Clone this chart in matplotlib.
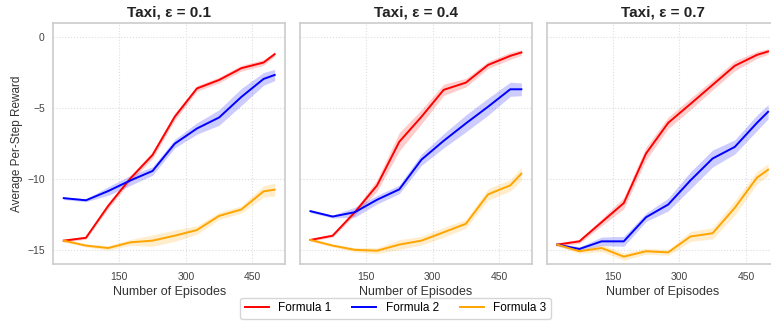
import numpy as np
import matplotlib
matplotlib.use("Agg")
import matplotlib.pyplot as plt
from matplotlib.lines import Line2D

plt.rcParams['font.family'] = ['Liberation Sans', 'DejaVu Sans']

episodes = [25, 75, 125, 175, 225, 275, 325, 375, 425, 475, 500]
epsilons = [0.1, 0.4, 0.7]
formulas = ['Formula 1', 'Formula 2', 'Formula 3']
colors = ['red', 'blue', 'orange']

# mean reward per formula, one list per epsilon
eps01_f1 = [-14.35, -14.15, -11.9, -9.96, -8.3, -5.6, -3.6, -3.0, -2.17, -1.77, -1.18]
eps01_f2 = [-11.35, -11.5, -10.85, -10.1, -9.43, -7.5, -6.43, -5.65, -4.2, -2.93, -2.65]
eps01_f3 = [-14.35, -14.7, -14.87, -14.47, -14.35, -14.0, -13.6, -12.6, -12.15, -10.87, -10.75]

eps04_f1 = [-14.3, -14.0, -12.34, -10.45, -7.37, -5.6, -3.7, -3.19, -1.94, -1.3, -1.06]
eps04_f2 = [-12.27, -12.65, -12.34, -11.46, -10.73, -8.63, -7.3, -6.07, -4.89, -3.66, -3.66]
eps04_f3 = [-14.3, -14.7, -15.0, -15.06, -14.63, -14.35, -13.76, -13.16, -11.08, -10.45, -9.62]

eps07_f1 = [-14.63, -14.4, -13.05, -11.7, -8.2, -6.03, -4.7, -3.35, -2.0, -1.23, -0.99]
eps07_f2 = [-14.63, -14.94, -14.4, -14.4, -12.7, -11.8, -10.1, -8.55, -7.73, -6.03, -5.25]
eps07_f3 = [-14.63, -15.1, -14.87, -15.48, -15.1, -15.18, -14.06, -13.83, -12.03, -9.9, -9.34]

# standard deviation across runs
eps01_f1_sd = [0.1, 0.1, 0.2, 0.2, 0.25, 0.25, 0.2, 0.2, 0.2, 0.2, 0.15]
eps01_f2_sd = [0.1, 0.1, 0.3, 0.35, 0.3, 0.3, 0.4, 0.55, 0.6, 0.45, 0.4]
eps01_f3_sd = [0.1, 0.1, 0.15, 0.2, 0.4, 0.4, 0.3, 0.25, 0.25, 0.4, 0.45]

eps04_f1_sd = [0.1, 0.1, 0.2, 0.4, 0.65, 0.5, 0.4, 0.3, 0.25, 0.25, 0.2]
eps04_f2_sd = [0.1, 0.1, 0.35, 0.3, 0.3, 0.4, 0.5, 0.6, 0.6, 0.5, 0.45]
eps04_f3_sd = [0.1, 0.1, 0.15, 0.2, 0.35, 0.3, 0.35, 0.3, 0.4, 0.4, 0.45]

eps07_f1_sd = [0.1, 0.15, 0.25, 0.4, 0.45, 0.4, 0.4, 0.35, 0.35, 0.25, 0.2]
eps07_f2_sd = [0.1, 0.15, 0.3, 0.35, 0.3, 0.45, 0.6, 0.6, 0.5, 0.55, 0.5]
eps07_f3_sd = [0.1, 0.15, 0.25, 0.25, 0.2, 0.2, 0.35, 0.4, 0.5, 0.45, 0.4]

means = [[eps01_f1, eps01_f2, eps01_f3],
         [eps04_f1, eps04_f2, eps04_f3],
         [eps07_f1, eps07_f2, eps07_f3]]
sds = [[eps01_f1_sd, eps01_f2_sd, eps01_f3_sd],
       [eps04_f1_sd, eps04_f2_sd, eps04_f3_sd],
       [eps07_f1_sd, eps07_f2_sd, eps07_f3_sd]]

fig = plt.figure(figsize=(7.71, 3.25), dpi=100)
lefts = [0.069, 0.389, 0.709]
axes = []
for i, eps in enumerate(epsilons):
    ax = fig.add_axes([lefts[i], 0.1877, 0.3009, 0.7406], sharey=axes[0] if axes else None)
    axes.append(ax)
    x = np.array(episodes)
    for j in range(3):
        m = np.array(means[i][j])
        s = np.array(sds[i][j])
        ax.fill_between(x, m - s, m + s, color=colors[j], alpha=0.2, linewidth=0)
        ax.plot(x, m, color=colors[j], linewidth=1.4)
    ax.set_title('Taxi, ε = %s' % eps, fontsize=11, fontweight='bold', color='#222222', pad=5)
    ax.set_xlabel('Number of Episodes', fontsize=9, color='#333333', labelpad=3)
    ax.set_xticks([150, 300, 450])
    ax.set_yticks([0, -5, -10, -15])
    ax.set_ylim(-16, 1)
    ax.set_xlim(1.25, 523.75)
    ax.grid(True, color='#dddddd', linestyle=':', linewidth=0.8)
    ax.set_axisbelow(True)
    for sp in ax.spines.values():
        sp.set_color('#cccccc')
        sp.set_linewidth(1.2)
    ax.tick_params(length=0, labelsize=7.5, labelcolor='#444444', pad=6)
    if i > 0:
        ax.tick_params(labelleft=False)

axes[0].set_ylabel('Average Per-Step Reward', fontsize=8.5, color='#333333', labelpad=3)

handles = [Line2D([0], [0], color=c, linewidth=1.4) for c in colors]
fig.legend(handles, formulas, loc='lower center', ncol=3, bbox_to_anchor=(0.513, 0.0),
           fontsize=8.5, frameon=True, edgecolor='#cccccc', fancybox=True,
           handlelength=2.0, handletextpad=0.8, columnspacing=1.8)

fig.savefig('out.png', dpi=100)
